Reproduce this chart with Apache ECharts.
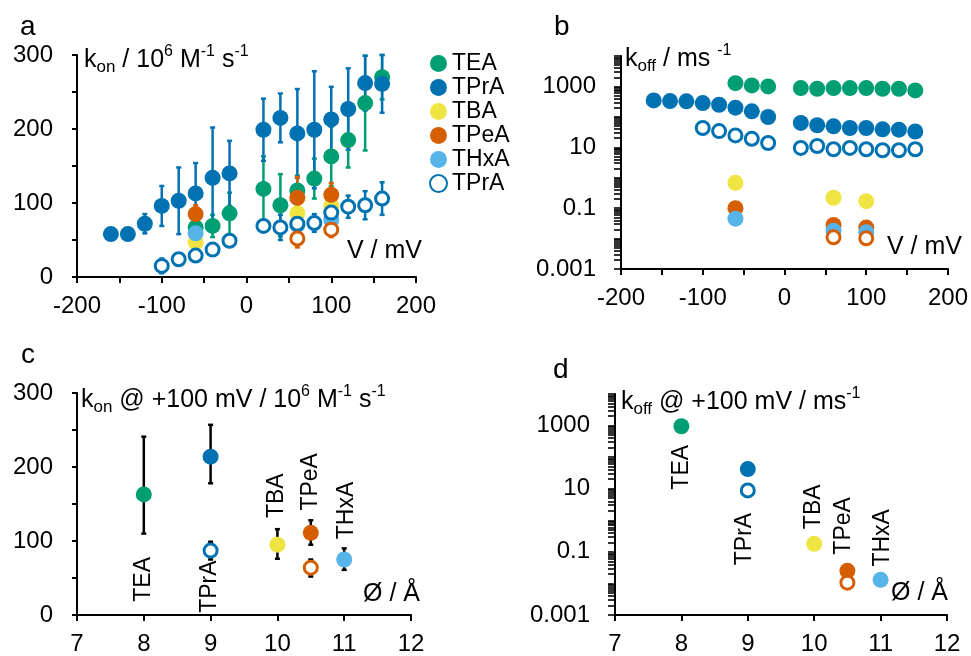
<!DOCTYPE html>
<html><head><meta charset="utf-8">
<script src="https://cdn.jsdelivr.net/npm/echarts@6/dist/echarts.min.js"></script>
<style>html,body{margin:0;padding:0;background:#fff}#c{width:971px;height:656px}</style>
</head><body><div id="c"></div>
<script>
// ---------- DATA ----------
// Panel a: k_on vs V (10^6 M^-1 s^-1)
const vTEA = [-60,-40,-20,20,40,60,80,100,120,140,160];
const konTEA = [67,69,86,119,97,117,133,163,185,235,270];
const konTEAerr = [10,15,28,44,42,20,27,40,37,64,30];
const vTPrA = [-160,-140,-120,-100,-80,-60,-40,-20,20,40,60,80,100,120,140,160];
const konTPrA = [58,58,72,96,103,113,134,140,199,215,194,199,213,227,262,261];
const konTPrAerr = [0,0,13,27,45,41,68,44,42,33,60,79,44,55,37,39];
const vTBA = [-60,60,100];
const konTBA = [47,86,96];
const konTBAerr = [8,10,8];
const vTPeA = [-60,60,100];
const konTPeA = [85,107,111];
const konTPeAerr = [12,28,16];
const vTHxA = [-60,60,100];
const konTHxA = [59,70,77];
const konTHxAerr = [6,6,6];
const vTPrAo = [-100,-80,-60,-40,-20,20,40,60,80,100,120,140,160];
const konTPrAo = [15,24,29,37,49,69,67,72,73,87,95,97,106];
const konTPrAoErr = [10,5,5,5,5,8,17,8,12,10,15,19,22];
const vTPeAo = [60,100];
const konTPeAo = [52,64];
const konTPeAoErr = [12,10];

// Panel b: k_off vs V (ms^-1)
const koffTEA = [1280,1080,1000,880,840,880,880,880,840,840,740];
const koffTPrA = [348,330,323,284,250,200,152,99,63,53,49,43,43,39,38,33];
const koffTBA = [0.68,0.22,0.17];
const koffTPeA = [0.10,0.028,0.023];
const koffTHxA = [0.045,0.018,0.016];
const koffTPrAo = [43,34,24.5,19,13.8,9.5,11,8.6,9.5,8.6,8,8,8.6];
const koffTPeAo = [0.011,0.0102];

// Panels c, d: vs diameter (Å)
const diam = {TEA:8, TPrA:9, TBA:10, TPeA:10.5, THxA:11};
const konC = {TEA:163, TPrA:214, TPrAo:87, TBA:95, TPeA:111, TPeAo:64, THxA:75};
const konCLow = {TEA:110, TPrA:178, TPrAo:75, TBA:76, TPeA:95, TPeAo:52, THxA:61};
const konCHigh = {TEA:241, TPrA:257, TPrAo:99, TBA:116, TPeA:128, TPeAo:75, THxA:90};
const koffD = {TEA:950, TPrA:42, TPrAo:8.8, TBA:0.18, TPeA:0.025, TPeAo:0.0106, THxA:0.013};

const xTicksV = [-200,-100,0,100,200];
const xTicksD = [7,8,9,10,11,12];
const yTicksKon = [0,100,200,300];

// ---------- STYLE ----------
const FONT = '"Liberation Sans", Arial, sans-serif';
const COL = {TEA:'#009E73', TPrA:'#0072B2', TBA:'#F0E442', TPeA:'#D55E00', THxA:'#56B4E9'};
const GRIDS = [
  {left:77, top:55, width:339, height:222},
  {left:621, top:56, width:328, height:213},
  {left:77, top:393, width:334, height:223},
  {left:615, top:394, width:332, height:221}
];

const chart = echarts.init(document.getElementById('c'), null, {renderer:'canvas'});

function sc(name, xs, ys, color, hollow, gi) {
  return {type:'scatter', name, xAxisIndex:gi, yAxisIndex:gi,
    data: xs.map((x,i)=>[x, ys[i]]), symbol:'circle', symbolSize: hollow?13:16,
    itemStyle: hollow ? {color:'#fff', borderColor:color, borderWidth:3, opacity:1} : {color, opacity:1},
    z:3, silent:true, emphasis:{disabled:true}, animation:false};
}
function ebRender(color, cap, lw) {
  return function(params, api) {
    const x = api.value(0);
    const a = api.coord([x, api.value(1)]), b = api.coord([x, api.value(2)]);
    const st = {stroke:color, lineWidth:lw};
    return {type:'group', children:[
      {type:'line', shape:{x1:a[0],y1:a[1],x2:b[0],y2:b[1]}, style:st},
      {type:'line', shape:{x1:a[0]-cap,y1:a[1],x2:a[0]+cap,y2:a[1]}, style:st},
      {type:'line', shape:{x1:b[0]-cap,y1:b[1],x2:b[0]+cap,y2:b[1]}, style:st}
    ]};
  };
}
function eb(xs, ys, errs, color, gi) {
  return {type:'custom', xAxisIndex:gi, yAxisIndex:gi, silent:true, z:2, animation:false,
    data: xs.map((x,i)=>[x, ys[i]-errs[i], ys[i]+errs[i]]),
    renderItem: ebRender(color, 2.5, 2.5)};
}
function logFmt(v) {
  const e = Math.round(Math.log10(v));
  if (Math.abs(e) % 2 !== 1) return '';
  return e < 0 ? Math.pow(10,e).toFixed(-e) : String(Math.round(Math.pow(10,e)));
}
const axLine = {show:true, onZero:false, lineStyle:{color:'#000', width:2}};
const labelStyle = {color:'#000', fontSize:24, fontFamily:FONT};
function valX(gi, min, max, interval, shown, margin) {
  return {type:'value', gridIndex:gi, min, max, interval, axisLine:axLine,
    axisTick:{show:true, length:6, lineStyle:{color:'#000', width:2}},
    axisLabel:Object.assign({margin, formatter:v=> shown.indexOf(v)>=0 ? String(v) : ''}, labelStyle),
    splitLine:{show:false}};
}
function valY(gi) {
  return {type:'value', gridIndex:gi, min:0, max:300, interval:50, axisLine:axLine,
    axisTick:{show:true, length:5, lineStyle:{color:'#000', width:2}},
    axisLabel:Object.assign({margin:24, formatter:v=> yTicksKon.indexOf(v)>=0 ? String(v) : ''}, labelStyle),
    splitLine:{show:false}};
}
// log ticks: decades plus 2..9 in each decade
const allLogTicks = [];
for (let e=-3; e<=4; e++) { allLogTicks.push(Math.pow(10,e)); if (e<4) for (let m=2; m<10; m++) allLogTicks.push(m*Math.pow(10,e)); }
function logY(gi) {
  return {type:'log', gridIndex:gi, min:0.001, max:10000, logBase:10, position:'left', axisLine:axLine,
    axisTick:{show:true, length:7, customValues:allLogTicks, lineStyle:{color:'#000', width:1.6}},
    axisLabel:Object.assign({margin:25, formatter:logFmt}, labelStyle),
    splitLine:{show:false}};
}

const series = [
  eb(vTEA, konTEA, konTEAerr, COL.TEA, 0),
  eb(vTPrA, konTPrA, konTPrAerr, COL.TPrA, 0),
  eb(vTBA, konTBA, konTBAerr, COL.TBA, 0),
  eb(vTPeA, konTPeA, konTPeAerr, COL.TPeA, 0),
  eb(vTHxA, konTHxA, konTHxAerr, COL.THxA, 0),
  eb(vTPrAo, konTPrAo, konTPrAoErr, COL.TPrA, 0),
  eb(vTPeAo, konTPeAo, konTPeAoErr, COL.TPeA, 0),
  sc('TEA', vTEA, konTEA, COL.TEA, false, 0),
  sc('TPrA', vTPrA, konTPrA, COL.TPrA, false, 0),
  sc('TBA', vTBA, konTBA, COL.TBA, false, 0),
  sc('TPeA', vTPeA, konTPeA, COL.TPeA, false, 0),
  sc('THxA', vTHxA, konTHxA, COL.THxA, false, 0),
  sc('TPrA ', vTPrAo, konTPrAo, COL.TPrA, true, 0),
  sc('TPeA ', vTPeAo, konTPeAo, COL.TPeA, true, 0),
  sc('TEA', vTEA, koffTEA, COL.TEA, false, 1),
  sc('TPrA', vTPrA, koffTPrA, COL.TPrA, false, 1),
  sc('TBA', vTBA, koffTBA, COL.TBA, false, 1),
  sc('TPeA', vTPeA, koffTPeA, COL.TPeA, false, 1),
  sc('THxA', vTHxA, koffTHxA, COL.THxA, false, 1),
  sc('TPrA ', vTPrAo, koffTPrAo, COL.TPrA, true, 1),
  sc('TPeA ', vTPeAo, koffTPeAo, COL.TPeA, true, 1),
  {type:'custom', xAxisIndex:2, yAxisIndex:2, silent:true, z:2, animation:false,
    data: [[diam.TEA, konCLow.TEA, konCHigh.TEA],[diam.TPrA, konCLow.TPrA, konCHigh.TPrA],[diam.TPrA, konCLow.TPrAo, konCHigh.TPrAo],
           [diam.TBA, konCLow.TBA, konCHigh.TBA],[diam.TPeA, konCLow.TPeA, konCHigh.TPeA],[diam.TPeA, konCLow.TPeAo, konCHigh.TPeAo],
           [diam.THxA, konCLow.THxA, konCHigh.THxA]],
    renderItem: ebRender('#000', 2.5, 2.5)},
  sc('TEA', [diam.TEA], [konC.TEA], COL.TEA, false, 2),
  sc('TPrA', [diam.TPrA], [konC.TPrA], COL.TPrA, false, 2),
  sc('TBA', [diam.TBA], [konC.TBA], COL.TBA, false, 2),
  sc('TPeA', [diam.TPeA], [konC.TPeA], COL.TPeA, false, 2),
  sc('THxA', [diam.THxA], [konC.THxA], COL.THxA, false, 2),
  sc('TPrA ', [diam.TPrA], [konC.TPrAo], COL.TPrA, true, 2),
  sc('TPeA ', [diam.TPeA], [konC.TPeAo], COL.TPeA, true, 2),
  sc('TEA', [diam.TEA], [koffD.TEA], COL.TEA, false, 3),
  sc('TPrA', [diam.TPrA], [koffD.TPrA], COL.TPrA, false, 3),
  sc('TBA', [diam.TBA], [koffD.TBA], COL.TBA, false, 3),
  sc('TPeA', [diam.TPeA], [koffD.TPeA], COL.TPeA, false, 3),
  sc('THxA', [diam.THxA], [koffD.THxA], COL.THxA, false, 3),
  sc('TPrA ', [diam.TPrA], [koffD.TPrAo], COL.TPrA, true, 3),
  sc('TPeA ', [diam.TPeA], [koffD.TPeAo], COL.TPeA, true, 3)
];

chart.setOption({
  animation:false,
  textStyle:{fontFamily:FONT},
  grid: GRIDS,
  xAxis:[
    valX(0, -200, 200, 50, xTicksV, 17),
    valX(1, -200, 200, 50, xTicksV, 17),
    valX(2, 7, 12, 1, xTicksD, 17),
    valX(3, 7, 12, 1, xTicksD, 17)
  ],
  yAxis:[ valY(0), logY(1), valY(2), logY(3) ],
  legend:{
    orient:'vertical', left:429, top:52, padding:0, itemWidth:17, itemHeight:17, itemGap:1, icon:'circle',
    selectedMode:false,
    data:['TEA','TPrA','TBA','TPeA','THxA','TPrA '],
    textStyle:{fontSize:23, color:'#000', fontFamily:FONT, lineHeight:22}
  },
  series
});

// ---------- ANNOTATIONS ----------
const rich = {
  n:{fontSize:25, fontFamily:FONT, color:'#000', lineHeight:32, verticalAlign:'middle'},
  sub:{fontSize:17, fontFamily:FONT, color:'#000', lineHeight:14, verticalAlign:'bottom'},
  sup:{fontSize:16, fontFamily:FONT, color:'#000', lineHeight:14, verticalAlign:'top'}
};
function richText(x, y, text) {
  return {type:'text', x, y, silent:true, z:10, style:{text, rich, x:0, y:0, align:'left', verticalAlign:'top'}};
}
function plainText(x, y, text, size, align, valign, rot) {
  return {type:'text', x, y, rotation:rot||0, silent:true, z:10,
    style:{text, fontSize:size, fontFamily:FONT, fill:'#000', align:align, verticalAlign:valign}};
}
const graphics = [
  plainText(20, 27, 'a', 28, 'left', 'middle'),
  plainText(554, 27, 'b', 28, 'left', 'middle'),
  plainText(21, 355, 'c', 28, 'left', 'middle'),
  plainText(553, 370, 'd', 28, 'left', 'middle'),
  richText(84, 44, '{n|k}{sub|on}{n| / 10}{sup|6}{n| M}{sup|-1}{n| s}{sup|-1}'),
  richText(625, 43, '{n|k}{sub|off}{n| / ms }{sup|-1}'),
  richText(81, 384, '{n|k}{sub|on}{n| @ +100 mV / 10}{sup|6}{n| M}{sup|-1}{n| s}{sup|-1}'),
  richText(621, 386, '{n|k}{sub|off}{n| @ +100 mV / ms}{sup|-1}'),
  plainText(422, 251, 'V / mV', 25, 'right', 'middle'),
  plainText(962, 247, 'V / mV', 25, 'right', 'middle'),
  plainText(420, 594, 'Ø / Å', 25, 'right', 'middle'),
  plainText(948, 593, 'Ø / Å', 25, 'right', 'middle')
];
const namedC = [
  {t:'TEA', at:[diam.TEA, konC.TEA], off:[0,85]},
  {t:'TPrA', at:[diam.TPrA, konC.TPrAo], off:[-1,36]},
  {t:'TBA', at:[diam.TBA, konC.TBA], off:[-1,-49]},
  {t:'TPeA', at:[diam.TPeA, konC.TPeA], off:[0,-51]},
  {t:'THxA', at:[diam.THxA, konC.THxA], off:[2,-49]}
];
const namedD = [
  {t:'TEA', at:[diam.TEA, koffD.TEA], off:[0,41]},
  {t:'TPrA', at:[diam.TPrA, koffD.TPrA], off:[-3,70]},
  {t:'TBA', at:[diam.TBA, koffD.TBA], off:[-1,-37]},
  {t:'TPeA', at:[diam.TPeA, koffD.TPeA], off:[-4,-45]},
  {t:'THxA', at:[diam.THxA, koffD.THxA], off:[2,-42]}
];
namedC.forEach(o=>{
  const p = chart.convertToPixel({gridIndex:2}, o.at);
  graphics.push(plainText(p[0]+o.off[0], p[1]+o.off[1], o.t, 23, 'center', 'middle', Math.PI/2));
});
namedD.forEach(o=>{
  const p = chart.convertToPixel({gridIndex:3}, o.at);
  graphics.push(plainText(p[0]+o.off[0], p[1]+o.off[1], o.t, 23, 'center', 'middle', Math.PI/2));
});
chart.setOption({graphic: graphics});
</script>
</body></html>
